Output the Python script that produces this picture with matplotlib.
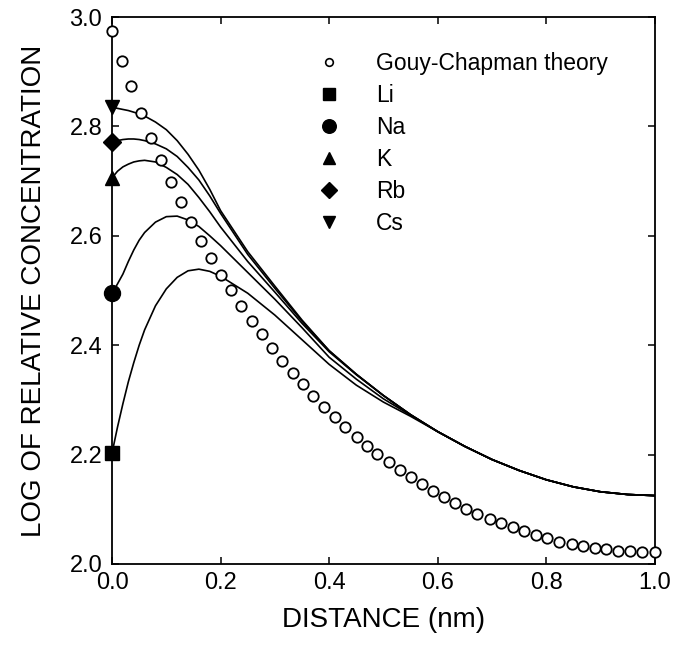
import matplotlib
matplotlib.use("Agg")
import matplotlib.pyplot as plt
from matplotlib.lines import Line2D

plt.rcParams["font.family"] = ["Liberation Sans", "DejaVu Sans"]

# Gouy-Chapman theory (open circles)
gc_x = [0.0, 0.018, 0.034, 0.053, 0.072, 0.090, 0.108, 0.127, 0.145, 0.163,
        0.182, 0.201, 0.220, 0.238, 0.257, 0.276, 0.295, 0.313, 0.334, 0.351,
        0.371, 0.390, 0.411, 0.430, 0.451, 0.470, 0.489, 0.510, 0.531, 0.551,
        0.571, 0.591, 0.611, 0.632, 0.653, 0.672, 0.696, 0.717, 0.738, 0.759,
        0.781, 0.802, 0.824, 0.847, 0.867, 0.889, 0.910, 0.932, 0.955, 0.977,
        1.0]
gc_y = [2.974, 2.920, 2.873, 2.824, 2.779, 2.739, 2.699, 2.662, 2.625, 2.591,
        2.559, 2.528, 2.500, 2.472, 2.444, 2.420, 2.394, 2.371, 2.349, 2.329,
        2.307, 2.287, 2.268, 2.250, 2.233, 2.216, 2.201, 2.186, 2.172, 2.159,
        2.146, 2.133, 2.122, 2.111, 2.101, 2.091, 2.082, 2.074, 2.068, 2.060,
        2.053, 2.048, 2.041, 2.036, 2.032, 2.029, 2.027, 2.024, 2.023, 2.021,
        2.021]

# simulated profiles for the ions
ion_x = [0.0, 0.01, 0.02, 0.03, 0.04, 0.05, 0.06, 0.08, 0.10, 0.12, 0.14,
         0.16, 0.18, 0.20, 0.25, 0.30, 0.35, 0.40, 0.45, 0.50, 0.55, 0.60,
         0.65, 0.70, 0.75, 0.80, 0.85, 0.90, 0.95, 1.00]
tail = [2.242, 2.215, 2.191, 2.171, 2.154, 2.141, 2.132, 2.127, 2.125]

li_y = [2.203, 2.250, 2.293, 2.333, 2.368, 2.400, 2.428, 2.472, 2.503, 2.524,
        2.536, 2.539, 2.535, 2.526, 2.495, 2.455, 2.410, 2.365, 2.327, 2.296,
        2.270] + tail
na_y = [2.495, 2.512, 2.530, 2.553, 2.574, 2.592, 2.606, 2.625, 2.635, 2.636,
        2.629, 2.617, 2.600, 2.582, 2.533, 2.484, 2.432, 2.378, 2.338, 2.302,
        2.272] + tail
k_y = [2.706, 2.718, 2.726, 2.731, 2.735, 2.737, 2.738, 2.735, 2.725, 2.712,
       2.694, 2.670, 2.644, 2.616, 2.553, 2.497, 2.440, 2.388, 2.346, 2.308,
       2.273] + tail
rb_y = [2.771, 2.774, 2.776, 2.777, 2.777, 2.776, 2.774, 2.768, 2.759, 2.745,
        2.725, 2.702, 2.673, 2.641, 2.566, 2.504, 2.444, 2.390, 2.347, 2.308,
        2.273] + tail
cs_y = [2.835, 2.833, 2.831, 2.829, 2.826, 2.823, 2.819, 2.808, 2.794, 2.774,
        2.749, 2.720, 2.685, 2.646, 2.571, 2.508, 2.446, 2.390, 2.347, 2.308,
        2.273] + tail

ions = ["Li", "Na", "K", "Rb", "Cs"]
ion_vals = [li_y, na_y, k_y, rb_y, cs_y]
ion_markers = ["s", "o", "^", "D", "v"]
ion_ms = [10.5, 11.5, 10.5, 9, 10.5]

fig = plt.figure(figsize=(6.75, 6.57), dpi=100)
ax = fig.add_axes([0.166, 0.1416, 0.804, 0.8325])

for vals in ion_vals:
    ax.plot(ion_x, vals, color="black", lw=1.2, zorder=2)

ax.plot(gc_x, gc_y, ls="none", marker="o", ms=7.5, mfc="white",
        mec="black", mew=1.3, zorder=3, clip_on=False)

for vals, m, s in zip(ion_vals, ion_markers, ion_ms):
    ax.plot(ion_x[0], vals[0], ls="none", marker=m, ms=s, color="black",
            zorder=4, clip_on=False)

ax.set_xlim(0, 1.0)
ax.set_ylim(2.0, 3.0)
ax.set_xticks([0.0, 0.2, 0.4, 0.6, 0.8, 1.0])
ax.set_yticks([2.0, 2.2, 2.4, 2.6, 2.8, 3.0])
ax.tick_params(direction="in", top=True, right=True, length=5, width=1.1,
               labelsize=17)
ax.tick_params(axis="x", pad=6)
ax.tick_params(axis="y", pad=7)
for sp in ax.spines.values():
    sp.set_linewidth(1.3)

ax.set_xlabel("DISTANCE (nm)", fontsize=20, labelpad=9)
ax.set_ylabel("LOG OF RELATIVE CONCENTRATION", fontsize=20, labelpad=16)

handles = [Line2D([], [], ls="none", marker="o", ms=5.5, mfc="white",
                  mec="black", mew=1.2)]
for m, s in zip(ion_markers, ion_ms):
    handles.append(Line2D([], [], ls="none", marker=m, ms=s * 0.85,
                          color="black"))
ax.legend(handles, ["Gouy-Chapman theory"] + ions, loc="upper left",
          bbox_to_anchor=(0.378, 0.936), frameon=False, fontsize=16.5,
          handlelength=1.0, handletextpad=1.55, labelspacing=0.39,
          borderpad=0, borderaxespad=0)

plt.savefig("out.png", dpi=100)
